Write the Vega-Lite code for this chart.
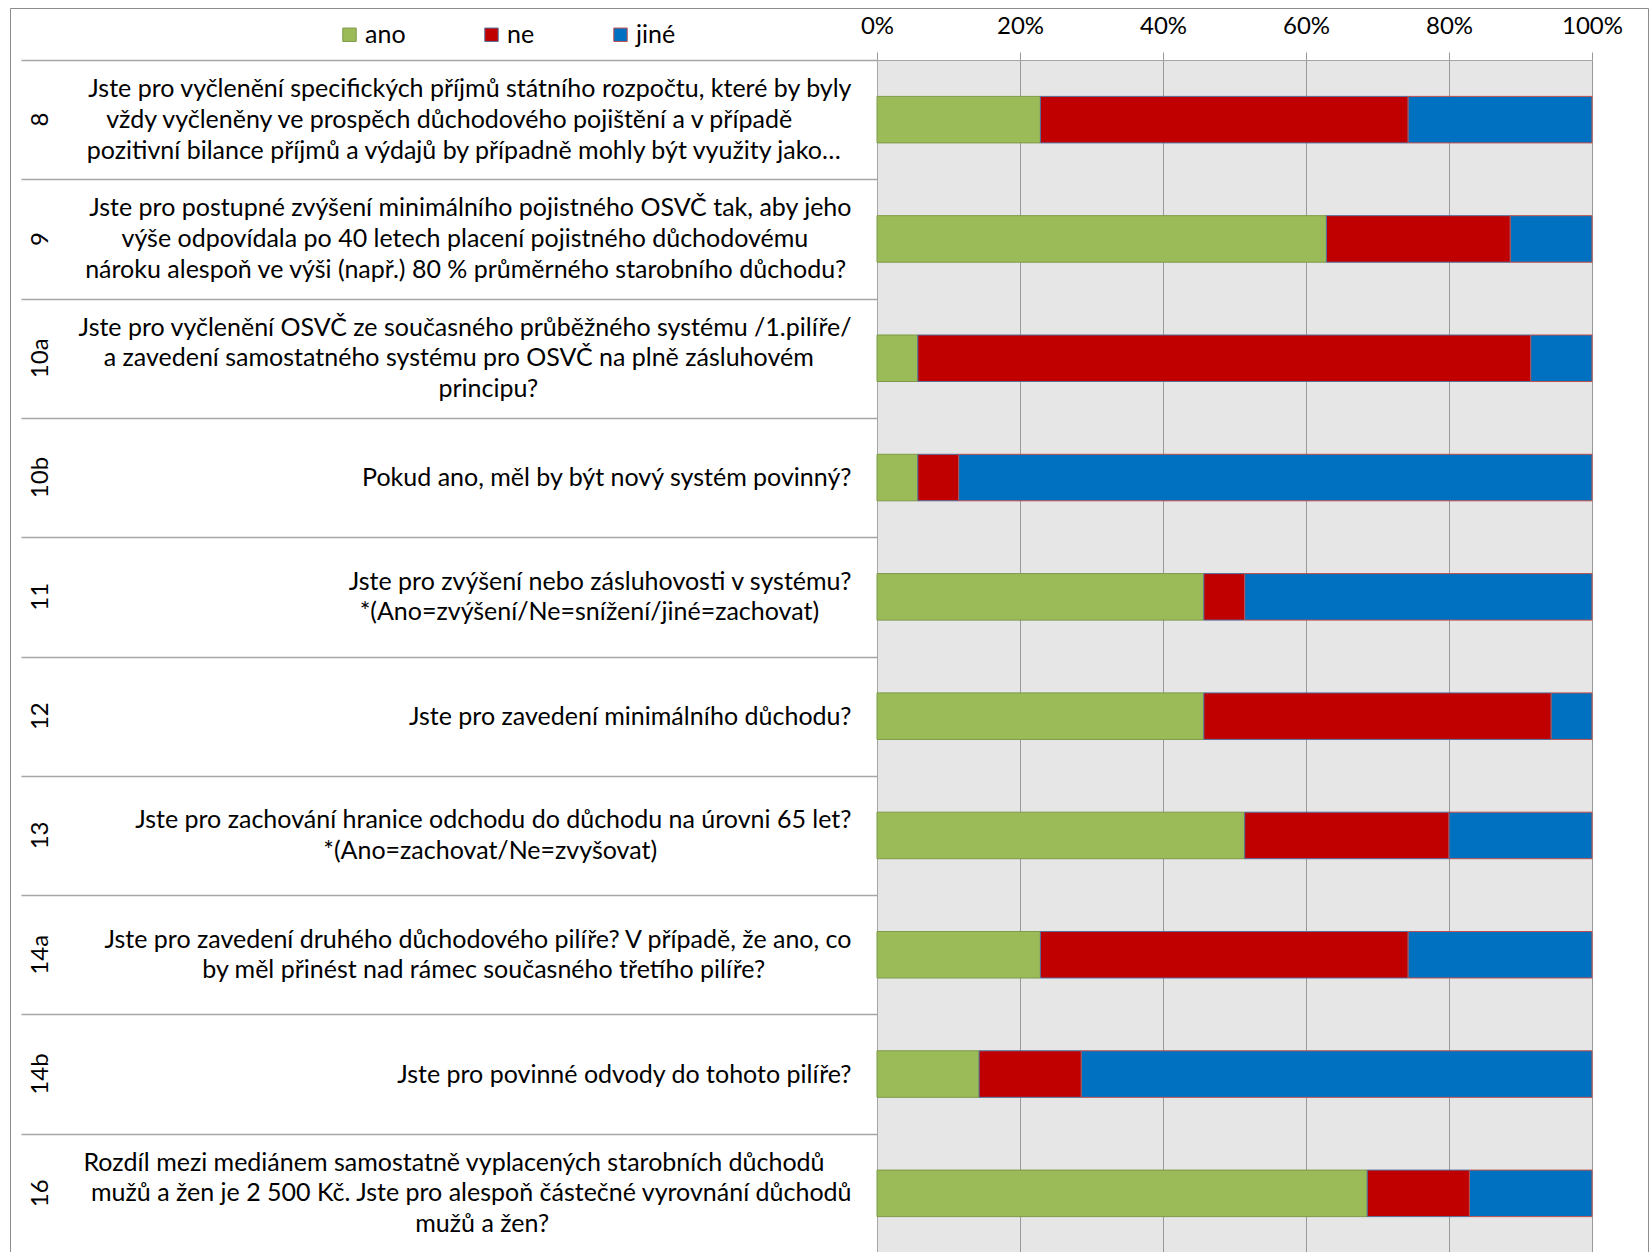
{
  "$schema": "https://vega.github.io/schema/vega-lite/v6.json",
  "autosize": {"type": "none"},
  "padding": {"left": 877, "top": 60, "right": 59, "bottom": 0},
  "width": 715,
  "height": 1193,
  "background": "white",
  "config": {"view": {"fill": "#E6E6E6", "stroke": null}, "font": "Lato"},
  "data": {"values": [
    {"question": "8|Jste pro vyčlenění specifických příjmů státního rozpočtu, které by byly|vždy vyčleněny ve prospěch důchodového pojištění a v případě|pozitivní bilance příjmů a výdajů by případně mohly být využity jako…", "answer": "ano", "k": 1, "n": 8},
    {"question": "8|Jste pro vyčlenění specifických příjmů státního rozpočtu, které by byly|vždy vyčleněny ve prospěch důchodového pojištění a v případě|pozitivní bilance příjmů a výdajů by případně mohly být využity jako…", "answer": "ne", "k": 2, "n": 18},
    {"question": "8|Jste pro vyčlenění specifických příjmů státního rozpočtu, které by byly|vždy vyčleněny ve prospěch důchodového pojištění a v případě|pozitivní bilance příjmů a výdajů by případně mohly být využity jako…", "answer": "jiné", "k": 3, "n": 9},
    {"question": "9|Jste pro postupné zvýšení minimálního pojistného OSVČ tak, aby jeho|výše odpovídala po 40 letech placení pojistného důchodovému|nároku alespoň ve výši (např.) 80 % průměrného starobního důchodu?", "answer": "ano", "k": 1, "n": 22},
    {"question": "9|Jste pro postupné zvýšení minimálního pojistného OSVČ tak, aby jeho|výše odpovídala po 40 letech placení pojistného důchodovému|nároku alespoň ve výši (např.) 80 % průměrného starobního důchodu?", "answer": "ne", "k": 2, "n": 9},
    {"question": "9|Jste pro postupné zvýšení minimálního pojistného OSVČ tak, aby jeho|výše odpovídala po 40 letech placení pojistného důchodovému|nároku alespoň ve výši (např.) 80 % průměrného starobního důchodu?", "answer": "jiné", "k": 3, "n": 4},
    {"question": "10a|Jste pro vyčlenění OSVČ ze současného průběžného systému /1.pilíře/|a zavedení  samostatného systému pro OSVČ na plně zásluhovém|principu?", "answer": "ano", "k": 1, "n": 2},
    {"question": "10a|Jste pro vyčlenění OSVČ ze současného průběžného systému /1.pilíře/|a zavedení  samostatného systému pro OSVČ na plně zásluhovém|principu?", "answer": "ne", "k": 2, "n": 30},
    {"question": "10a|Jste pro vyčlenění OSVČ ze současného průběžného systému /1.pilíře/|a zavedení  samostatného systému pro OSVČ na plně zásluhovém|principu?", "answer": "jiné", "k": 3, "n": 3},
    {"question": "10b|Pokud ano, měl by být nový systém povinný?", "answer": "ano", "k": 1, "n": 2},
    {"question": "10b|Pokud ano, měl by být nový systém povinný?", "answer": "ne", "k": 2, "n": 2},
    {"question": "10b|Pokud ano, měl by být nový systém povinný?", "answer": "jiné", "k": 3, "n": 31},
    {"question": "11|Jste pro zvýšení nebo zásluhovosti v systému?|*(Ano=zvýšení/Ne=snížení/jiné=zachovat)", "answer": "ano", "k": 1, "n": 16},
    {"question": "11|Jste pro zvýšení nebo zásluhovosti v systému?|*(Ano=zvýšení/Ne=snížení/jiné=zachovat)", "answer": "ne", "k": 2, "n": 2},
    {"question": "11|Jste pro zvýšení nebo zásluhovosti v systému?|*(Ano=zvýšení/Ne=snížení/jiné=zachovat)", "answer": "jiné", "k": 3, "n": 17},
    {"question": "12|Jste pro zavedení minimálního důchodu?", "answer": "ano", "k": 1, "n": 16},
    {"question": "12|Jste pro zavedení minimálního důchodu?", "answer": "ne", "k": 2, "n": 17},
    {"question": "12|Jste pro zavedení minimálního důchodu?", "answer": "jiné", "k": 3, "n": 2},
    {"question": "13|Jste pro zachování hranice odchodu do důchodu na úrovni 65 let?|*(Ano=zachovat/Ne=zvyšovat)", "answer": "ano", "k": 1, "n": 18},
    {"question": "13|Jste pro zachování hranice odchodu do důchodu na úrovni 65 let?|*(Ano=zachovat/Ne=zvyšovat)", "answer": "ne", "k": 2, "n": 10},
    {"question": "13|Jste pro zachování hranice odchodu do důchodu na úrovni 65 let?|*(Ano=zachovat/Ne=zvyšovat)", "answer": "jiné", "k": 3, "n": 7},
    {"question": "14a|Jste pro zavedení druhého důchodového pilíře? V případě, že ano, co|by měl přinést nad rámec současného třetího pilíře?", "answer": "ano", "k": 1, "n": 8},
    {"question": "14a|Jste pro zavedení druhého důchodového pilíře? V případě, že ano, co|by měl přinést nad rámec současného třetího pilíře?", "answer": "ne", "k": 2, "n": 18},
    {"question": "14a|Jste pro zavedení druhého důchodového pilíře? V případě, že ano, co|by měl přinést nad rámec současného třetího pilíře?", "answer": "jiné", "k": 3, "n": 9},
    {"question": "14b|Jste pro povinné odvody do tohoto pilíře?", "answer": "ano", "k": 1, "n": 5},
    {"question": "14b|Jste pro povinné odvody do tohoto pilíře?", "answer": "ne", "k": 2, "n": 5},
    {"question": "14b|Jste pro povinné odvody do tohoto pilíře?", "answer": "jiné", "k": 3, "n": 25},
    {"question": "16|Rozdíl mezi mediánem samostatně vyplacených starobních důchodů|mužů a žen je 2 500 Kč. Jste pro alespoň částečné vyrovnání důchodů|mužů a žen?", "answer": "ano", "k": 1, "n": 24},
    {"question": "16|Rozdíl mezi mediánem samostatně vyplacených starobních důchodů|mužů a žen je 2 500 Kč. Jste pro alespoň částečné vyrovnání důchodů|mužů a žen?", "answer": "ne", "k": 2, "n": 5},
    {"question": "16|Rozdíl mezi mediánem samostatně vyplacených starobních důchodů|mužů a žen je 2 500 Kč. Jste pro alespoň částečné vyrovnání důchodů|mužů a žen?", "answer": "jiné", "k": 3, "n": 6}
  ]},
  "layer": [
    {
      "mark": {"type": "bar", "height": {"band": 0.39}, "strokeWidth": 1},
      "encoding": {
        "y": {
          "field": "question", "type": "nominal", "sort": null,
          "scale": {"paddingInner": 0, "paddingOuter": 0},
          "axis": {
            "orient": "left", "offset": 0, "title": null,
            "domain": true, "domainColor": "#A6A6A6", "domainWidth": 1,
            "ticks": true, "tickBand": "extent", "tickSize": 856, "tickColor": "#A6A6A6", "tickWidth": 1.5,
            "labelExpr": "split(datum.label, '|')[1] || ''",
            "labelPadding": {"expr": "-830 + (max(length(split(datum.label, '|')[1] || ''), length(split(datum.label, '|')[2] || ''), length(split(datum.label, '|')[3] || '')) - length(split(datum.label, '|')[1] || '')) * 5.4"},
            "labelOffset": {"expr": "(1 - length(split(datum.label, '|')) / 2) * 31"},
            "labelAlign": "right", "labelBaseline": "middle",
            "labelFont": "Lato", "labelFontSize": 25, "labelLimit": 0,
            "labelColor": "#000000", "labelOverlap": false, "labelBound": false, "grid": false
          }
        },
        "x": {
          "field": "n", "type": "quantitative", "stack": "normalize",
          "scale": {"domain": [0, 1]},
          "axis": {
            "orient": "top", "title": null, "values": [0, 0.2, 0.4, 0.6, 0.8, 1], "format": ".0%",
            "labelFont": "Lato", "labelFontSize": 24, "labelColor": "#000000", "labelFlush": false,
            "labelPadding": 14, "grid": true, "gridColor": "#999999", "gridWidth": 1,
            "ticks": true, "tickSize": 8, "tickColor": "#999999", "domain": true, "domainColor": "#A6A6A6"
          }
        },
        "color": {
          "field": "answer", "type": "nominal", "sort": ["ano", "ne", "jiné"],
          "scale": {"domain": ["ano", "ne", "jiné"], "range": ["#9BBB59", "#C00000", "#0070C0"]},
          "legend": {
            "orient": "none", "legendX": -540, "legendY": -38, "direction": "horizontal", "title": null,
            "symbolType": "square", "symbolSize": 180, "symbolStrokeWidth": 1, "labelOffset": 3,
            "labelFont": "Lato", "labelFontSize": 25, "labelColor": "#000000", "columnPadding": 73, "padding": 0
          }
        },
        "stroke": {
          "field": "answer", "type": "nominal", "sort": ["ano", "ne", "jiné"],
          "scale": {"domain": ["ano", "ne", "jiné"], "range": ["#7E9A48", "#55709E", "#C0504D"]}
        },
        "order": {"field": "k", "type": "quantitative"}
      }
    },
    {
      "mark": {"type": "point", "opacity": 0},
      "encoding": {
        "y": {
          "field": "question", "type": "nominal", "sort": null,
          "axis": {
            "orient": "left", "offset": 0, "title": null, "domain": false, "ticks": false, "grid": false,
            "labelExpr": "split(datum.label, '|')[2] || ''",
            "labelPadding": {"expr": "26 + (max(length(split(datum.label, '|')[1] || ''), length(split(datum.label, '|')[2] || ''), length(split(datum.label, '|')[3] || '')) - length(split(datum.label, '|')[2] || '')) * 5.4"},
            "labelOffset": {"expr": "(2 - length(split(datum.label, '|')) / 2) * 31"},
            "labelAlign": "right", "labelBaseline": "middle",
            "labelFont": "Lato", "labelFontSize": 25, "labelLimit": 0,
            "labelColor": "#000000", "labelOverlap": false, "labelBound": false
          }
        }
      }
    },
    {
      "mark": {"type": "point", "opacity": 0},
      "encoding": {
        "y": {
          "field": "question", "type": "nominal", "sort": null,
          "axis": {
            "orient": "left", "offset": 0, "title": null, "domain": false, "ticks": false, "grid": false,
            "labelExpr": "split(datum.label, '|')[3] || ''",
            "labelPadding": {"expr": "26 + (max(length(split(datum.label, '|')[1] || ''), length(split(datum.label, '|')[2] || ''), length(split(datum.label, '|')[3] || '')) - length(split(datum.label, '|')[3] || '')) * 5.4"},
            "labelOffset": {"expr": "(3 - length(split(datum.label, '|')) / 2) * 31"},
            "labelAlign": "right", "labelBaseline": "middle",
            "labelFont": "Lato", "labelFontSize": 25, "labelLimit": 0,
            "labelColor": "#000000", "labelOverlap": false, "labelBound": false
          }
        }
      }
    },
    {
      "mark": {"type": "point", "opacity": 0},
      "encoding": {
        "y": {
          "field": "question", "type": "nominal", "sort": null,
          "axis": {
            "orient": "left", "offset": 0, "title": null, "domain": false, "ticks": false, "grid": false,
            "labelExpr": "split(datum.label, '|')[0]",
            "labelPadding": 837, "labelAngle": 270, "labelAlign": "center", "labelBaseline": "middle",
            "labelFont": "Lato", "labelFontSize": 24, "labelColor": "#000000", "labelOverlap": false, "labelBound": false
          }
        },
        "shape": {
          "datum": "frame",
          "legend": {
            "orient": "none", "legendX": -867, "legendY": -52, "title": null, "padding": 817,
            "strokeColor": "#8C8C8C", "symbolOpacity": 0, "symbolSize": 4,
            "labelExpr": "''", "labelOffset": 0, "labelFontSize": 1,
            "encode": {"legend": {"update": {"strokeWidth": {"value": 2}}}}
          }
        }
      }
    }
  ],
  "resolve": {"axis": {"y": "independent"}}
}
